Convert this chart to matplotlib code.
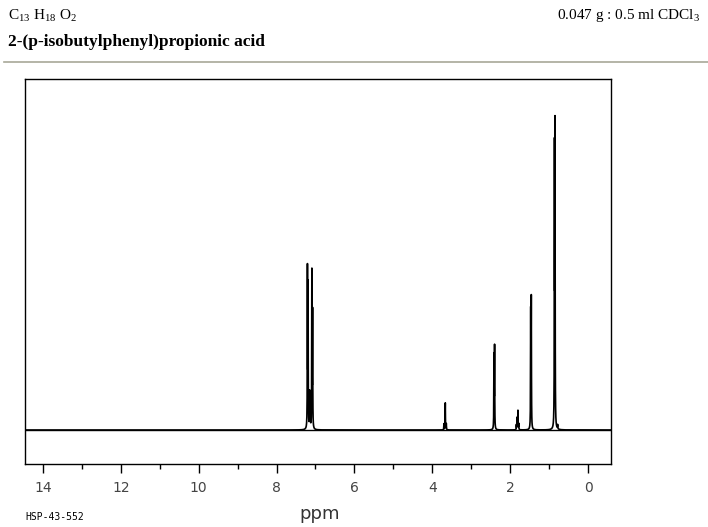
import numpy as np
import matplotlib
matplotlib.use('Agg')
import matplotlib.pyplot as plt
from matplotlib.lines import Line2D

plt.rcParams['mathtext.fontset'] = 'custom'
plt.rcParams['mathtext.rm'] = 'Liberation Serif'

# peak list: position (ppm), height (px above baseline)
peak_ppm = [7.206, 7.190, 7.150, 7.135, 7.092, 7.074,
            3.70, 3.666, 3.64,
            2.415, 2.400,
            1.84, 1.82, 1.80, 1.78,
            1.472, 1.457,
            0.862, 0.848, 0.78]
peak_h = [158, 140, 35, 28, 156, 115,
          6, 27, 6,
          72, 81,
          5, 12, 19, 6,
          115, 128,
          270, 295, 4]
peak_w = 0.004  # half width, ppm

tick_pos = [14, 12, 10, 8, 6, 4, 2, 0]
tick_lab = ['14', '12', '10', '8', '6', '4', '2', '0']

x = np.linspace(-0.59, 14.46, 30000)
y = np.zeros_like(x)
for p, h in zip(peak_ppm, peak_h):
    y += h * peak_w**2 / ((x - p)**2 + peak_w**2)

fig = plt.figure(figsize=(7.08, 5.27), dpi=100)
ax = fig.add_axes([25/708, 1 - 464/527, 586/708, 385/527])
ax.plot(x, y, color='black', lw=1.2)
ax.axhline(0, color='black', lw=1.0)
ax.set_xlim(14.46, -0.59)
ax.set_ylim(-34, 351)
ax.set_yticks([])
ax.set_xticks(tick_pos)
ax.set_xticklabels(tick_lab)
ax.set_xticks(np.arange(1, 14, 2), minor=True)
ax.tick_params(axis='x', which='major', direction='out', length=6.5, width=1, pad=6, labelsize=10, labelcolor='#444444')
ax.tick_params(axis='x', which='minor', direction='out', length=3.5, width=1)
for s in ax.spines.values():
    s.set_linewidth(1.0)

fig.text(320/708, 1 - 514/527, 'ppm', ha='center', va='center', fontsize=13, color='#333333')
fig.text(25/708, 1 - 517/527, 'HSP-43-552', ha='left', va='center', fontsize=7, family='DejaVu Sans Mono')

serif = 'Liberation Serif'
fig.text(8/708, 1 - 16/527, r'C$_{13}$ H$_{18}$ O$_{2}$', ha='left', va='center', fontsize=11, family=serif)
fig.text(700/708, 1 - 16/527, r'0.047 g : 0.5 ml CDCl$_{3}$', ha='right', va='center', fontsize=11, family=serif)
fig.text(8/708, 1 - 42/527, '2-(p-isobutylphenyl)propionic acid', ha='left', va='center', fontsize=12.5, family=serif, weight='bold')
fig.add_artist(Line2D([4/708, 1], [1 - 62/527, 1 - 62/527], transform=fig.transFigure, color='#a8a898', lw=1.2))

fig.savefig('out.png', dpi=100)
